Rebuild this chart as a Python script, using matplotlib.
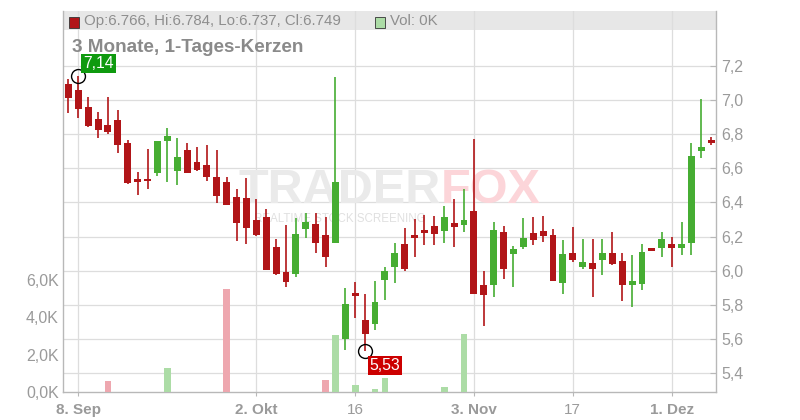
import matplotlib
matplotlib.use('Agg')
import matplotlib.pyplot as plt
import numpy as np
import pandas as pd
from matplotlib.patches import Rectangle
from matplotlib.ticker import FuncFormatter, FixedLocator

plt.rcParams['font.family'] = ['Liberation Sans', 'DejaVu Sans']

# ---------------- data ----------------
dates = pd.bdate_range('2025-09-05', '2025-12-05')
opens = [7.094, 7.059, 6.960, 6.889, 6.854, 6.883, 6.748, 6.537, 6.532, 6.574,
         6.762, 6.586, 6.707, 6.635, 6.619, 6.549, 6.520, 6.432, 6.426, 6.297,
         6.314, 6.138, 5.992, 5.982, 6.246, 6.272, 6.209, 6.164, 5.601, 5.867,
         5.710, 5.689, 5.947, 6.019, 6.156, 6.209, 6.238, 6.263, 6.234, 6.279,
         6.269, 6.351, 5.916, 5.917, 6.226, 6.099, 6.140, 6.221, 6.232, 6.209,
         5.929, 6.103, 6.023, 6.045, 6.064, 6.103, 6.056, 5.917, 5.923, 6.133,
         6.134, 6.156, 6.134, 6.164, 6.703, 6.766]
highs = [7.124, 7.140, 7.018, 6.930, 7.018, 6.942, 6.766, 6.578, 6.713, 6.760,
         6.836, 6.778, 6.748, 6.727, 6.737, 6.707, 6.549, 6.477, 6.543, 6.420,
         6.361, 6.185, 6.267, 6.309, 6.338, 6.340, 6.313, 7.137, 5.896, 5.933,
         5.863, 5.939, 6.019, 6.162, 6.250, 6.303, 6.328, 6.320, 6.379, 6.420,
         6.479, 6.772, 5.996, 6.285, 6.262, 6.144, 6.309, 6.314, 6.320, 6.244,
         6.179, 6.256, 6.185, 6.185, 6.185, 6.226, 6.103, 6.091, 6.156, 6.135,
         6.226, 6.197, 6.285, 6.748, 7.006, 6.784]
lows = [6.926, 6.897, 6.844, 6.779, 6.803, 6.691, 6.510, 6.445, 6.480, 6.557,
        6.521, 6.504, 6.574, 6.585, 6.527, 6.395, 6.386, 6.175, 6.158, 6.205,
        6.005, 5.974, 5.906, 5.964, 6.193, 6.101, 6.023, 6.164, 5.535, 5.724,
        5.530, 5.653, 5.826, 5.925, 5.999, 6.082, 6.150, 6.150, 6.164, 6.140,
        6.228, 5.865, 5.677, 5.847, 5.952, 5.906, 6.128, 6.152, 6.170, 5.941,
        5.865, 6.052, 6.011, 5.847, 5.976, 6.035, 5.823, 5.788, 5.888, 6.115,
        6.082, 6.023, 6.093, 6.092, 6.662, 6.737]
closes = [7.014, 6.950, 6.850, 6.826, 6.815, 6.738, 6.516, 6.521, 6.525, 6.760,
          6.789, 6.666, 6.574, 6.588, 6.551, 6.439, 6.386, 6.281, 6.252, 6.211,
          6.005, 5.982, 5.935, 6.213, 6.285, 6.164, 6.082, 6.520, 5.804, 5.851,
          5.630, 5.816, 5.996, 6.103, 6.009, 6.193, 6.222, 6.216, 6.314, 6.256,
          6.299, 5.865, 5.859, 6.238, 6.011, 6.127, 6.191, 6.181, 6.205, 5.941,
          6.097, 6.064, 6.050, 6.011, 6.103, 6.041, 5.917, 5.939, 6.109, 6.117,
          6.185, 6.134, 6.156, 6.672, 6.725, 6.749]
volumes_k = [0, 0, 0, 0, 0.59, 0, 0, 0, 0, 0,
             1.28, 0, 0, 0, 0, 0, 5.51, 0, 0, 0,
             0, 0, 0, 0, 0, 0, 0.64, 3.05, 0, 0.37,
             0, 0.16, 0.75, 0, 0, 0, 0, 0, 0.27, 0,
             3.10, 0, 0, 0, 0, 0, 0, 0, 0, 0,
             0, 0, 0, 0, 0, 0, 0, 0, 0, 0,
             0, 0, 0, 0, 0, 0]

price_ticks = [5.4, 5.6, 5.8, 6.0, 6.2, 6.4, 6.6, 6.8, 7.0, 7.2]
volume_ticks = [0, 2, 4, 6]
tick_dates = ['2025-09-08', '2025-10-02', '2025-10-16', '2025-11-03', '2025-11-17', '2025-12-01']
tick_labels = ['8. Sep', '2. Okt', '16', '3. Nov', '17', '1. Dez']
tick_bold = [True, True, False, True, False, True]
title = '3 Monate, 1-Tages-Kerzen'
legend_text = 'Op:6.766, Hi:6.784, Lo:6.737, Cl:6.749'
vol_text = 'Vol: 0K'
high_label = '7,14'
low_label = '5,53'

# ---------------- style ----------------
RED = '#b11518'
GREEN = '#46ad32'
VRED = '#eea7af'
VGREEN = '#acdca6'
GRID = '#dddddd'
SPINE = '#b8b8b8'
TXT = '#9a9a9a'

W, H = 800, 420
fig = plt.figure(figsize=(8, 4.2), dpi=100)
rect = [63 / W, 1 - 392 / H, (716 - 63) / W, (392 - 11) / H]
axg = fig.add_axes(rect)
axv = fig.add_axes(rect, sharex=axg)
axp = fig.add_axes(rect, sharex=axg)
axg.set_zorder(0); axv.set_zorder(1); axp.set_zorder(2)
axv.patch.set_visible(False); axp.patch.set_visible(False)

x = np.arange(len(dates))
o = np.array(opens); h = np.array(highs); l = np.array(lows); c = np.array(closes)
v = np.array(volumes_k)
ymin, ymax = 5.288, 7.5226
axg.set_xlim(-0.546, 65.48)
axg.set_ylim(ymin, ymax)
axp.set_ylim(ymin, ymax)
axv.set_ylim(0, 20.37)

# background grid
for yv in price_ticks:
    axg.axhline(yv, color=GRID, lw=0.9, zorder=1)
tick_pos = [dates.get_loc(pd.Timestamp(d)) for d in tick_dates]
for tp in tick_pos:
    axg.axvline(tp, color=GRID, lw=0.9, zorder=1)
# header band
axg.add_patch(Rectangle((0, 1 - 19 / 381), 1, 19 / 381, transform=axg.transAxes,
                        facecolor='#e7e7e7', edgecolor='none', zorder=0.5))

# watermark (behind data, above grid)
wm = [
    fig.text(441 / W, 1 - 191 / H, 'TRADER', fontsize=35, fontweight='bold', color='#eaeaea',
             ha='right', va='center'),
    fig.text(441 / W, 1 - 191 / H, 'FOX', fontsize=35, fontweight='bold', color='#fcd5d9',
             ha='left', va='center'),
    fig.text(340 / W, 1 - 219 / H, 'REALTIME STOCK SCREENING', fontsize=8.3, color='#e0e0e0',
             ha='center', va='center'),
]
for t in wm:
    t.set_zorder(0.5)

# volume bars
prev = np.concatenate([[c[0]], c[:-1]])
vcols = [VGREEN if ci >= pi else VRED for ci, pi in zip(c, prev)]
axv.bar(x, v, width=0.68, color=vcols, zorder=2)

# candles
cols = [GREEN if ci >= oi else RED for oi, ci in zip(o, c)]
axp.vlines(x, l, h, colors=cols, lw=1.2, zorder=2)
bottom = np.minimum(o, c)
height = np.maximum(np.abs(c - o), 0.012)
axp.bar(x, height, bottom=bottom, width=0.7, color=cols, zorder=3)

# high / low markers
ih = int(np.argmax(h[:5]))
il = int(np.argmin(l))
axp.plot([ih], [h[ih]], marker='o', ms=10, mfc='none', mec='black', mew=1.0, zorder=5)
axp.plot([il], [l[il]], marker='o', ms=10, mfc='none', mec='black', mew=1.0, zorder=5)
axp.annotate(high_label, xy=(ih, h[ih]), xytext=(14.6, 9.0), textcoords='offset points',
             ha='center', va='center', color='white', fontsize=11.3,
             bbox=dict(boxstyle='square,pad=0.12', fc='#0f9a0f', ec='none'), zorder=6)
axp.annotate(low_label, xy=(il, l[il]), xytext=(14.4, -10.6), textcoords='offset points',
             ha='center', va='center', color='white', fontsize=11.3,
             bbox=dict(boxstyle='square,pad=0.12', fc='#cc0000', ec='none'), zorder=6)

# axes styling
for a in (axg, axv, axp):
    for s in a.spines.values():
        s.set_visible(False)
for s in ('left', 'bottom', 'right'):
    axg.spines[s].set_visible(True)
    axg.spines[s].set_color(SPINE)
    axg.spines[s].set_linewidth(1.0)

axg.set_yticks([])
axg.xaxis.set_major_locator(FixedLocator(tick_pos))
axg.set_xticklabels(tick_labels)
axg.tick_params(axis='x', length=3, color=SPINE, pad=5, labelsize=11, labelcolor=TXT)
for lab, b in zip(axg.get_xticklabels(), tick_bold):
    lab.set_fontweight('bold' if b else 'normal')

axv.tick_params(axis='x', bottom=False, labelbottom=False)
axp.tick_params(axis='x', bottom=False, labelbottom=False)

axv.yaxis.set_major_locator(FixedLocator(volume_ticks))
axv.yaxis.set_major_formatter(FuncFormatter(lambda val, p: f'{val:.1f}K'.replace('.', ',')))
axv.tick_params(axis='y', left=True, length=0, pad=3, labelsize=11.5, labelcolor=TXT)

axp.yaxis.tick_right()
axp.yaxis.set_major_locator(FixedLocator(price_ticks))
axp.yaxis.set_major_formatter(FuncFormatter(lambda val, p: f'{val:.1f}'.replace('.', ',')))
axp.tick_params(axis='y', right=True, left=False, direction='in', length=4, color=SPINE,
                pad=4, labelsize=11.5, labelcolor=TXT)

# header legend
fig.patches.append(Rectangle((68.5 / W, 1 - 27.5 / H), 10.5 / W, 10.5 / H, transform=fig.transFigure,
                             facecolor=RED, edgecolor='#333333', lw=0.6, zorder=5))
fig.text(84.5 / W, 1 - 21 / H, legend_text, fontsize=10.8, color='#8e8e8e', va='center', ha='left', zorder=5)
fig.patches.append(Rectangle((374.5 / W, 1 - 27.5 / H), 10.5 / W, 10.5 / H, transform=fig.transFigure,
                             facecolor=VGREEN, edgecolor='#333333', lw=0.6, zorder=5))
fig.text(390 / W, 1 - 21 / H, vol_text, fontsize=10.8, color='#8e8e8e', va='center', ha='left', zorder=5)

# title
axp.text(72 / W, 1 - 47 / H, title, transform=fig.transFigure, fontsize=13.6, fontweight='bold',
         color='#8a8a8a', va='center', ha='left', zorder=6)

fig.savefig('out.png', dpi=100)
